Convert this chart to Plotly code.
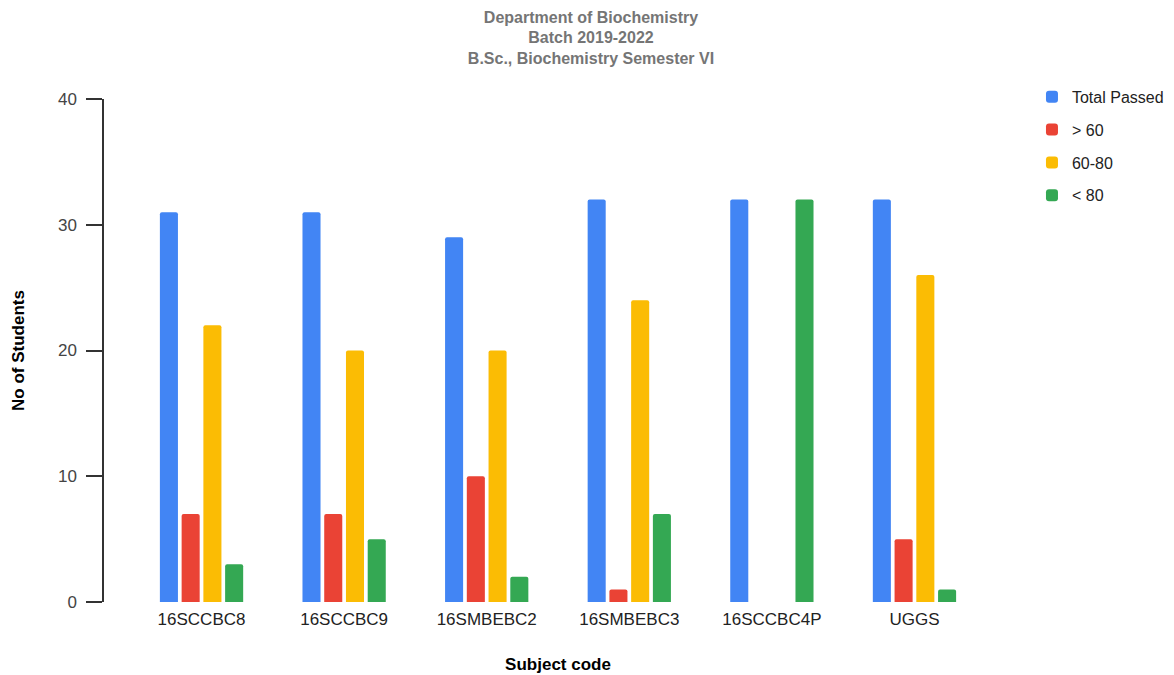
import plotly.graph_objects as go

categories = ["16SCCBC8", "16SCCBC9", "16SMBEBC2", "16SMBEBC3", "16SCCBC4P", "UGGS"]
total_passed = [31, 31, 29, 32, 32, 32]
above_60 = [7, 7, 10, 1, 0, 5]
range_60_80 = [22, 20, 20, 24, 0, 26]
below_80 = [3, 5, 2, 7, 32, 1]

series = [
    ("Total Passed", total_passed, "#4285f4"),
    ("> 60", above_60, "#ea4335"),
    ("60-80", range_60_80, "#fbbc04"),
    ("< 80", below_80, "#34a853"),
]

fig = go.Figure()
for i, (name, vals, color) in enumerate(series):
    fig.add_trace(go.Bar(
        x=categories, y=vals, name=name, legendgroup=f"g{i}",
        marker=dict(color=color, line=dict(width=0)),
    ))

# page body has an 8px margin, so the figure is sized to fit the window
fig.update_layout(
    width=1166, height=667,
    paper_bgcolor="white", plot_bgcolor="white",
    font=dict(family="Liberation Sans, Arial, sans-serif", size=17, color="#222222"),
    title=dict(
        text="<b>Department of Biochemistry<br>Batch 2019-2022<br>B.Sc., Biochemistry Semester VI</b>",
        x=0.5, xanchor="center", y=0.978, yanchor="middle",
        font=dict(size=16, color="#757575"),
    ),
    margin=dict(l=96, r=162, t=91, b=73, autoexpand=False),
    barmode="group", bargap=0.39, bargroupgap=0.17, barcornerradius=2,
    showlegend=True,
    legend=dict(
        x=1.022, y=1.038, xanchor="left", yanchor="top",
        font=dict(size=16, color="#222222"),
        tracegroupgap=9, itemwidth=30,
    ),
    xaxis=dict(
        range=[-0.684, 5.684], showline=False, showgrid=False, ticks="",
        ticklabelstandoff=5,
        tickfont=dict(size=17, color="#222222"),
        title=dict(text="<b>Subject code</b>", font=dict(size=17, color="#000000"), standoff=30),
    ),
    yaxis=dict(
        range=[0, 40], tickvals=[0, 10, 20, 30, 40],
        showline=True, linecolor="#333333", linewidth=1.5,
        ticks="outside", ticklen=16, tickcolor="#333333", tickwidth=1.5,
        ticklabelstandoff=6,
        showgrid=False, zeroline=False,
        tickfont=dict(size=17, color="#444444"),
        title=dict(text="<b>No of Students</b>", font=dict(size=17, color="#000000"), standoff=29),
    ),
)

fig.write_html("out.html")
